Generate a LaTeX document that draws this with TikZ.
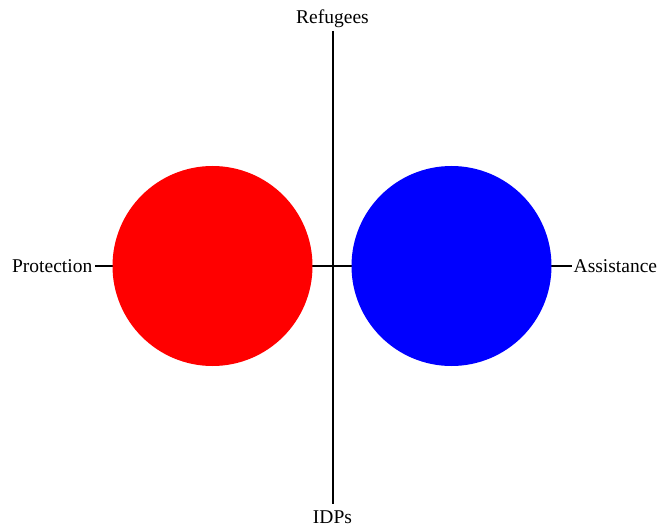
\documentclass[tikz,border=0pt]{standalone}
\usepackage{fontspec}
\setmainfont{Liberation Serif}
\begin{document}
\begin{tikzpicture}[x=1bp,y=-1bp,
  axis/.style={draw=black,line width=2bp},
  lbl/.style={inner sep=0pt,font=\fontsize{19.5bp}{23bp}\selectfont},
  disc/.style={circle,minimum size=200bp,inner sep=0pt,draw=none}]
\useasboundingbox (0,0) rectangle (660,529);
\coordinate (top) at (332.5,31);
\coordinate (bot) at (332.5,504);
\coordinate (lft) at (95,266);
\coordinate (rgt) at (572,266);
\node[lbl,anchor=base] (ref) at (332.5,24) {Refugees};
\node[lbl,anchor=base] (idp) at (332.5,523.5) {IDPs};
\node[lbl,anchor=base east] (prot) at (92.5,272.5) {Protection};
\node[lbl,anchor=base west] (assist) at (573.5,272.5) {Assistance};
\draw[axis] (top) -- (bot);
\draw[axis] (lft) -- (rgt);
\node[disc,fill={rgb,255:red,255;green,0;blue,0}] (redc) at (212.5,266) {};
\node[disc,fill={rgb,255:red,0;green,0;blue,255}] (bluec) at (451.5,266) {};
\end{tikzpicture}
\end{document}
